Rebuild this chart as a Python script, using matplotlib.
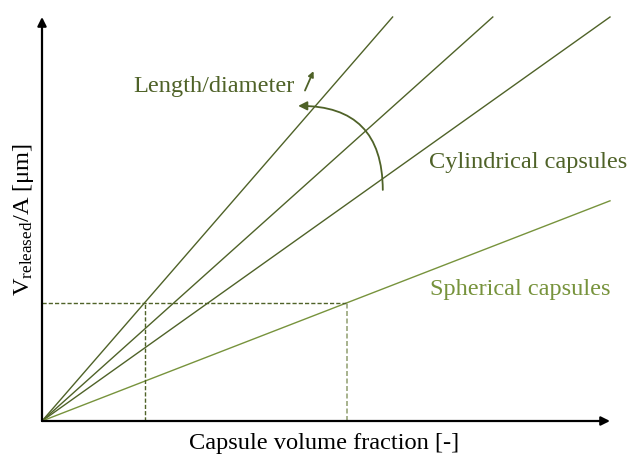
import matplotlib.pyplot as plt
from matplotlib.patches import FancyArrowPatch

plt.rcParams['font.family'] = ['Liberation Serif', 'DejaVu Serif']
plt.rcParams['mathtext.fontset'] = 'custom'
plt.rcParams['mathtext.rm'] = 'Liberation Serif'
plt.rcParams['mathtext.it'] = 'Liberation Serif:italic'

# slopes of the lines through the origin (axes run 0..1 on both sides)
cyl_slopes = [1.62, 1.26, 1.0]
sph_slope = 0.545
ref_level = 0.293  # dashed reading level

dark = '#4f6228'
light = '#77933c'
grey_green = '#98a67a'

fig = plt.figure(figsize=(6.31, 4.55), dpi=100)
ax = fig.add_axes([42 / 631, 34 / 455, 568 / 631, 404 / 455])
ax.set_xlim(0, 1)
ax.set_ylim(0, 1)
ax.axis('off')


def ray(k):
    x_end = min(1.0, 1.0 / k)
    return [0, x_end], [0, k * x_end]


for k in cyl_slopes:
    xs, ys = ray(k)
    ax.plot(xs, ys, color=dark, lw=1.0, clip_on=False)
xs, ys = ray(sph_slope)
ax.plot(xs, ys, color=light, lw=1.0, clip_on=False)

# dashed reading lines
x_cyl = ref_level / cyl_slopes[0]
x_sph = ref_level / sph_slope
ax.plot([0, x_sph], [ref_level, ref_level], color=dark, lw=1.0, ls=(0, (3, 1.5)))
ax.plot([x_cyl, x_cyl], [0, ref_level], color=dark, lw=1.0, ls=(0, (3, 1.5)))
ax.plot([x_sph, x_sph], [0, ref_level], color=grey_green, lw=1.2, ls=(0, (3, 1.5)))

# axes with arrow heads
ax.annotate('', xy=(1.0, 0), xytext=(0, 0), annotation_clip=False,
            arrowprops=dict(arrowstyle='-|>', color='black', lw=1.6,
                            mutation_scale=13, shrinkA=0, shrinkB=0))
ax.annotate('', xy=(0, 1.0), xytext=(0, 0), annotation_clip=False,
            arrowprops=dict(arrowstyle='-|>', color='black', lw=1.6,
                            mutation_scale=13, shrinkA=0, shrinkB=0))

# curved arrow showing increasing length/diameter
arc = FancyArrowPatch((0.600, 0.572), (0.451, 0.780),
                      connectionstyle='arc3,rad=0.5', arrowstyle='-|>',
                      mutation_scale=13, color=dark, lw=1.3,
                      shrinkA=0, shrinkB=0)
ax.add_patch(arc)
ax.annotate('', xy=(0.478, 0.866), xytext=(0.463, 0.818),
            arrowprops=dict(arrowstyle='-|>', color=dark, lw=1.3,
                            mutation_scale=8, shrinkA=0, shrinkB=0))

fs = 17.6
ax.text(0.160, 0.814, 'Length/diameter', color=dark, fontsize=fs,
        ha='left', va='baseline')
ax.text(0.681, 0.626, 'Cylindrical capsules', color=dark, fontsize=fs,
        ha='left', va='baseline')
ax.text(0.683, 0.312, 'Spherical capsules', color=light, fontsize=fs,
        ha='left', va='baseline')

ax.text(0.497, -0.069, 'Capsule volume fraction [-]', color='black',
        fontsize=fs, ha='center', va='baseline')
ax.text(-0.033, 0.50, r'V$_{\mathrm{released}}$/A [μm]', color='black',
        fontsize=fs, ha='center', va='center', rotation=90)

fig.savefig('out.png', dpi=100)
